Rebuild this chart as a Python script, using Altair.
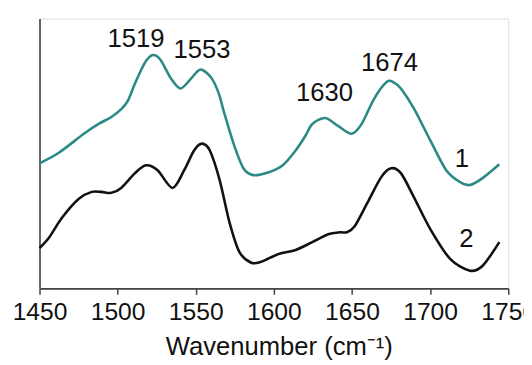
import altair as alt
import pandas as pd

# Spectrum 1 (teal)
wn1 = [1450, 1462.6, 1478.4, 1487.8, 1496.0, 1502.3, 1506.7, 1511.1, 1517.4, 1522.5,
       1527.5, 1533.8, 1540.1, 1546.4, 1550.8, 1554.0, 1560.3, 1564.7, 1567.9, 1574.2,
       1580.5, 1586.8, 1596.8, 1605.7, 1613.9, 1620.2, 1624.6, 1632.8, 1641.0, 1649.8,
       1656.2, 1664.3, 1672.5, 1676.9, 1681.3, 1689.5, 1700.2, 1710.3, 1719.1, 1725.4,
       1733.6, 1744.3]
abs1 = [127, 138, 157, 167, 174, 182, 191, 208, 229, 237,
        232, 214, 203, 212, 220, 222, 213, 198, 180, 147,
        122, 115, 118, 125, 140, 155, 167, 173, 165, 157,
        167, 193, 210, 209, 203, 183, 150, 120, 108, 105,
        112, 126]

# Spectrum 2 (black)
wn2 = [1450, 1456.3, 1464.5, 1475.2, 1483.4, 1489.7, 1496.0, 1502.3, 1511.1, 1518.1,
       1525.6, 1535.1, 1542.6, 1548.9, 1554.0, 1559.0, 1565.3, 1571.6, 1577.9, 1585.5,
       1591.8, 1603.1, 1613.9, 1624.6, 1634.7, 1642.3, 1646.6, 1651.7, 1659.9, 1668.7,
       1675.0, 1681.3, 1689.5, 1700.2, 1712.8, 1725.4, 1733.6, 1744.3]
abs2 = [41, 52, 72, 91, 98, 98, 97, 102, 117, 125,
        120, 102, 120, 140, 147, 140, 110, 67, 37, 26,
        27, 35, 39, 47, 55, 57, 57, 63, 87, 113,
        122, 117, 93, 60, 30, 18, 23, 47]

# Annotations
ann_text = ["1519", "1553", "1630", "1674", "1", "2"]
ann_x = [1511.8, 1554.0, 1632.4, 1674.0, 1720.3, 1723.2]
ann_y = [245, 234, 190, 221, 123, 42]

tick_vals = [1450 + 25 * i for i in range(13)]

df = pd.concat([
    pd.DataFrame({"wn": wn1, "a": abs1, "s": "1"}),
    pd.DataFrame({"wn": wn2, "a": abs2, "s": "2"}),
])
ann = pd.DataFrame({"t": ann_text, "x": ann_x, "y": ann_y})

FONT = "Liberation Sans"

xscale = alt.Scale(domain=[1450, 1750], nice=False, zero=False)
yscale = alt.Scale(domain=[0, 274], nice=False, zero=True)

lines = alt.Chart(df).mark_line(interpolate="cardinal", tension=0.1, strokeWidth=2.6).encode(
    x=alt.X("wn:Q", scale=xscale,
            axis=alt.Axis(values=tick_vals, format="d",
                          labelExpr="datum.value % 50 == 0 ? datum.label : ''",
                          title="Wavenumber (cm⁻¹)", grid=False,
                          labelFont=FONT, labelFontSize=25, labelColor="#111",
                          labelPadding=6, labelOverlap=False, labelFlush=False,
                          tickSize=6, tickColor="#444", tickWidth=1.5,
                          domainColor="#444", domainWidth=2,
                          titleFont=FONT, titleFontSize=26, titleFontWeight="normal",
                          titleColor="#111", titleBaseline="alphabetic",
                          titleY=67, titleX=243, titleAlign="center")),
    y=alt.Y("a:Q", scale=yscale,
            axis=alt.Axis(labels=False, ticks=False, grid=False, title=None,
                          domainColor="#666", domainWidth=2)),
    color=alt.Color("s:N", scale=alt.Scale(domain=["1", "2"], range=["#2b8a84", "#111111"]),
                    legend=None),
)

texts = alt.Chart(ann).mark_text(font=FONT, fontSize=26, color="#111",
                                 baseline="alphabetic", align="center").encode(
    x=alt.X("x:Q", scale=xscale),
    y=alt.Y("y:Q", scale=yscale),
    text="t:N",
)

chart = (lines + texts).properties(
    width=476, height=274,
    autosize=alt.AutoSizeParams(type="none"),
    padding={"left": 32, "top": 8, "right": 16, "bottom": 70},
).configure_view(stroke=None).configure(background="white")

chart.save("out.html", embed_options={"renderer": "svg", "actions": False})
